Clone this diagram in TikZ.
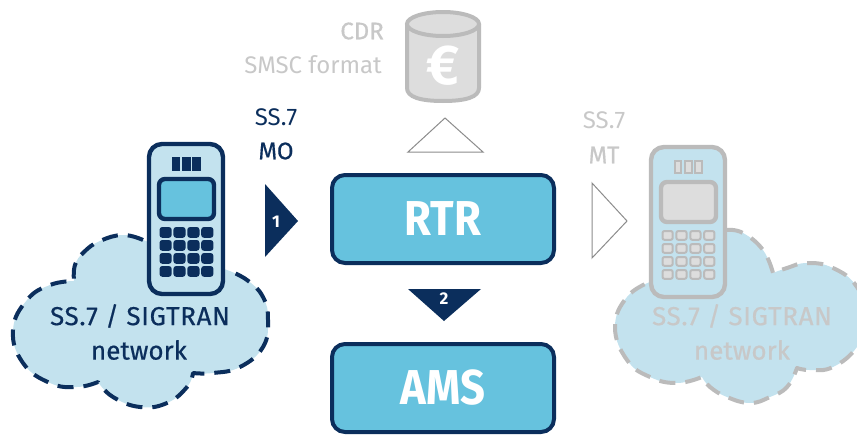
\documentclass[tikz,border=0pt]{standalone}
\usepackage{fontspec}
\setmainfont{Fira Sans}
\newfontfamily\semib[FakeBold=0.5]{Fira Sans}
\newfontfamily\semisp[FakeBold=0.5,LetterSpace=2.5]{Fira Sans}
\newfontfamily\boldcond[FakeStretch=0.89]{Fira Sans}
\usetikzlibrary{backgrounds}
\definecolor{navy}{HTML}{0B2E5C}
\definecolor{skyb}{HTML}{66C2DE}
\definecolor{pale}{HTML}{C3E2EE}
\definecolor{gline}{HTML}{BBBBBB}
\definecolor{gfill}{HTML}{DDDDDD}
\definecolor{gtext}{HTML}{C8C8C8}
\tikzset{
  x=1pt,y=-1pt,
  netcloud/.style={fill=pale,line width=4pt,dash pattern=on 16pt off 10pt,line join=round},
  bigbox/.style={draw=navy,fill=skyb,line width=4pt,rounded corners=13pt,minimum width=222pt,minimum height=88pt,inner sep=0pt,text=white,font=\boldcond\fontsize{49}{49}\selectfont\bfseries},
  lbl/.style={inner sep=0pt,font=\fontsize{24}{24}\selectfont},
  semilbl/.style={inner sep=0pt,font=\semib\fontsize{24}{24}\selectfont},
  netlbl/.style={inner sep=0pt,font=\semisp\fontsize{26}{26}\selectfont},
  netlblb/.style={inner sep=0pt,font=\semib\fontsize{26}{26}\selectfont},
  tri/.style={line width=1pt,line join=miter},
  body/.style={line width=4.4pt,rounded corners=13pt},
  scr/.style={line width=4.4pt,rounded corners=6pt},
}
\newcommand{\handset}[6]{% x y linecol screenfill keyfill keyline
  \begin{scope}[shift={(#1,#2)}]
    \filldraw[body,draw=#3,fill=pale] (0,0) rectangle (74,150);
    \filldraw[scr,draw=#3,fill=#4] (10,35) rectangle (65,75);
    \foreach \i in {0,1,2}
      \filldraw[draw=#6,fill=#5,line width=2pt] (23.5+\i*10.4,13.5) rectangle ++(6.8,12);
    \foreach \i in {0,1,2,3}
      \foreach \j in {0,1,2,3}
        \filldraw[draw=#6,fill=#5,line width=2pt,rounded corners=2pt] (11.5+\i*13.9,84+\j*13) rectangle ++(10.2,8.8);
  \end{scope}
}
\begin{document}
\begin{tikzpicture}
\useasboundingbox (0,0) rectangle (857,434);
% left cloud
\filldraw[netcloud,draw=navy]
  plot[smooth,tension=.75] coordinates {(143,240)(123,235)(100,241)(84,252)(75,265)(74,281)}
  -- plot[smooth,tension=.75] coordinates {(74,281)(50,285)(27,300)(13,330)(23,363)(50,383)(77,387)(98,382)}
  -- plot[smooth,tension=.75] coordinates {(98,382)(113,397)(140,407)(167,403)(187,387)(193,373)}
  -- plot[smooth,tension=.75] coordinates {(193,373)(213,373)(240,367)(263,347)(268,320)(263,297)(247,280)(227,270)};
% right cloud
\begin{scope}
\clip (0,0) rectangle (857,434);
\filldraw[netcloud,draw=gline]
  plot[smooth,tension=.75] coordinates {(727,230)(743,233)(763,250)(773,273)}
  -- plot[smooth,tension=.75] coordinates {(773,273)(787,268)(807,263)(833,268)(857,287)(868,320)(857,347)(833,367)(810,370)(797,368)}
  -- plot[smooth,tension=.75] coordinates {(797,368)(787,387)(770,397)(750,403)(727,397)(710,387)(702,377)}
  -- plot[smooth,tension=.75] coordinates {(702,377)(677,383)(650,377)(627,360)(615,327)(627,297)(650,282)};
\end{scope}
% phones
\handset{149}{144}{navy}{skyb}{navy}{navy}
\handset{651}{147}{gline}{gfill}{gfill}{gline}
% boxes
\node[bigbox] (rtr) at (443,219) {RTR};
\node[bigbox] (ams) at (443,388) {AMS};
% triangles
\node[lbl,text=navy] (ssmo) at (276,117) {SS.7};
\node[semilbl,text=navy] (mo) at (276,151) {MO};
\fill[navy] (265,184) -- (298,221) -- (265,257) -- cycle;
\node[inner sep=0pt,text=white,font=\fontsize{17}{17}\selectfont\bfseries] (one) at (276,222) {1};
\fill[navy] (408,289) -- (481,289) -- (444,321) -- cycle;
\node[inner sep=0pt,text=white,font=\fontsize{17}{17}\selectfont\bfseries] (two) at (444,299) {2};
\draw[tri,draw=gray!90,fill=white] (408,152) -- (483,152) -- (445,118) -- cycle;
\draw[tri,draw=gray!90,fill=white] (592,183) -- (627,221) -- (592,258) -- cycle;
\node[lbl,text=gtext] (ssmt) at (604,120) {SS.7};
\node[semilbl,text=gtext] (mt) at (604,155) {MT};
% cylinder
\filldraw[draw=gline,fill=gfill,line width=4pt] (407,24) -- (407,88) .. controls (407,97) and (420,101) .. (443,101) .. controls (466,101) and (479,97) .. (479,88) -- (479,24);
\filldraw[draw=gline,fill=gfill,line width=4pt] (443,24) ellipse [x radius=36,y radius=12];
\node[inner sep=0pt,text=white,font=\fontsize{56}{56}\selectfont\bfseries] (euro) at (443,66) {€};
\node[semilbl,text=gtext,anchor=east] (cdr) at (384,31) {CDR};
\node[lbl,text=gtext,anchor=east] (smsc) at (382,65) {SMSC format};
% cloud labels
\node[netlbl,text=navy] (n1a) at (140,316) {SS.7 / SIGTRAN};
\node[netlblb,text=navy] (n1b) at (139,350) {network};
\node[netlbl,text=gtext] (n2a) at (742,316) {SS.7 / SIGTRAN};
\node[netlblb,text=gtext] (n2b) at (742,350) {network};
\end{tikzpicture}
\end{document}
